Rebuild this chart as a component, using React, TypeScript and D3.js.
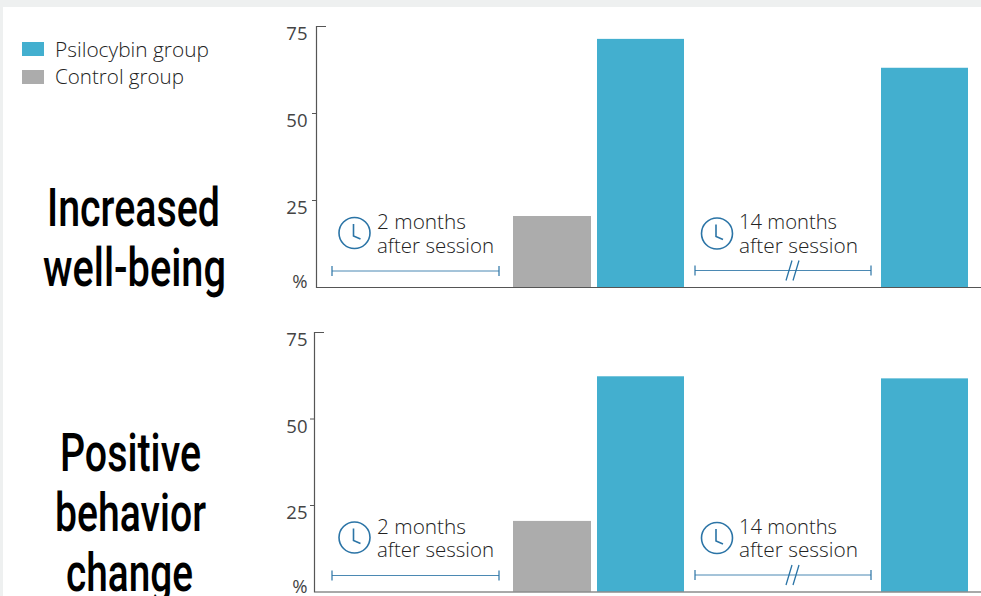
import React from "react";
import * as d3 from "d3";

const W = 981, H = 596;
const ticks = [0, 25, 50, 75];
const tickLabels = ["%", "25", "50", "75"];
const legendLabels = ["Psilocybin group", "Control group"];
const legendWidths = [154, 129];
const legendColors = ["#43afcf", "#acacac"];
const panels = ["wellBeing", "behavior"];
const control2mo = [20.4, 20.4];
const psilocybin2mo = [71.3, 62.2];
const psilocybin14mo = [63, 61.6];
const topTitle = ["Increased", "well-being"];
const topWidths = [173, 183];
const bottomTitle = ["Positive", "behavior", "change"];
const bottomWidths = [141, 151, 127];
const periods2 = ["2 months", "after session"];
const periods2Widths = [89, 117];
const periods14 = ["14 months", "after session"];
const periods14Widths = [98, 119];

const SANS = "'Open Sans', 'Noto Sans', sans-serif";
const TITLE = "Roboto, 'Liberation Sans', sans-serif";
const TEXT = "#222", BLUELINE = "#2b74a6", AXIS = "#555";

function Clock({ cx, cy }: { cx: number; cy: number }) {
  return (
    <g fill="none" stroke={BLUELINE} strokeWidth={1.6}>
      <circle cx={cx} cy={cy} r={15.5} />
      <path d={`M${cx - 1},${cy - 9} V${cy + 3} L${cx + 6},${cy + 6}`} />
    </g>
  );
}

function Span({ x0, x1, y, brk }: { x0: number; x1: number; y: number; brk?: number }) {
  return (
    <g stroke={BLUELINE} fill="none">
      <path d={`M${x0},${y} H${x1}`} strokeWidth={1} opacity={0.85} />
      <path d={`M${x0},${y - 5} V${y + 5} M${x1},${y - 5} V${y + 5}`} strokeWidth={1.2} />
      {brk !== undefined && <path d={`M${brk - 6},${y + 10} L${brk},${y - 10} M${brk + 1},${y + 10} L${brk + 7},${y - 10}`} strokeWidth={1.3} />}
    </g>
  );
}

function Panel({ i, axisX, y0, y75, labelDy }: { i: number; axisX: number; y0: number; y75: number; labelDy: number }) {
  const y = d3.scaleLinear().domain([0, 75]).range([y0, y75]);
  const bars = [
    { x: 513, w: 78, v: control2mo[i], c: legendColors[1] },
    { x: 597, w: 87, v: psilocybin2mo[i], c: legendColors[0] },
    { x: 881, w: 87, v: psilocybin14mo[i], c: legendColors[0] },
  ];
  return (
    <g>
      {bars.map((b, k) => (
        <rect key={k} x={b.x} y={y(b.v)} width={b.w} height={y0 - y(b.v)} fill={b.c} />
      ))}
      <path d={`M${axisX + 10},${y75 + 0.5} H${axisX + 0.5} V${y0 + 0.5} H${W}`} fill="none" stroke={AXIS} strokeWidth={1.2} />
      {ticks.slice(1, 3).map((t) => (
        <path key={t} d={`M${axisX - 4},${y(t) + 0.5} H${axisX}`} stroke={AXIS} />
      ))}
      {ticks.map((t, k) => (
        <text key={t} x={307.5} y={k === 0 ? y0 + 1 : y(t) + labelDy} textAnchor="end" fontFamily={SANS} fontWeight={400} fontSize={18.5} fill="#444">
          {tickLabels[k]}
        </text>
      ))}
      <Clock cx={354.5} cy={y0 - 54} />
      <Clock cx={717} cy={y0 - 53.5} />
      {periods2.map((s, k) => (
        <text key={k} x={377} y={y0 - 58 + k * 23.5} fontFamily={SANS} fontWeight={300} fontSize={20.5} fill={TEXT} textLength={periods2Widths[k]} lengthAdjust="spacingAndGlyphs">{s}</text>
      ))}
      {periods14.map((s, k) => (
        <text key={k} x={739} y={y0 - 58 + k * 23.5} fontFamily={SANS} fontWeight={300} fontSize={20.5} fill={TEXT} textLength={periods14Widths[k]} lengthAdjust="spacingAndGlyphs">{s}</text>
      ))}
      <Span x0={332} x1={499} y={y0 - 16} />
      <Span x0={695} x1={871} y={y0 - 16.5} brk={792} />
    </g>
  );
}

export default function App() {
  return (
    <svg width={W} height={H} viewBox={`0 0 ${W} ${H}`} style={{ position: "fixed", left: 0, top: 0, background: "#fff" }}>
      <rect x={0} y={0} width={W} height={7} fill="#eef0f0" />
      <rect x={0} y={0} width={3} height={H} fill="#eef0f0" />
      {legendLabels.map((l, k) => (
        <g key={l}>
          <rect x={22} y={42 + k * 28} width={22} height={14} fill={legendColors[k]} />
          <text x={55} y={57 + k * 27} fontFamily={SANS} fontWeight={300} fontSize={21} fill={TEXT} textLength={legendWidths[k]} lengthAdjust="spacingAndGlyphs">{l}</text>
        </g>
      ))}
      {topTitle.map((s, k) => (
        <text key={s} x={k === 0 ? 47 : 43} y={226 + k * 60} fontFamily={TITLE} fontSize={54} fontWeight={500} fill="#000" textLength={topWidths[k]} lengthAdjust="spacingAndGlyphs">{s}</text>
      ))}
      {bottomTitle.map((s, k) => (
        <text key={s} x={[60, 55, 66][k]} y={471 + k * 60} fontFamily={TITLE} fontSize={54} fontWeight={500} fill="#000" textLength={bottomWidths[k]} lengthAdjust="spacingAndGlyphs">{s}</text>
      ))}
      {panels.map((p, i) => (
        <Panel key={p} i={i} axisX={i === 0 ? 316 : 314} y0={i === 0 ? 287 : 591.5} y75={i === 0 ? 26 : 332} labelDy={14} />
      ))}
    </svg>
  );
}
